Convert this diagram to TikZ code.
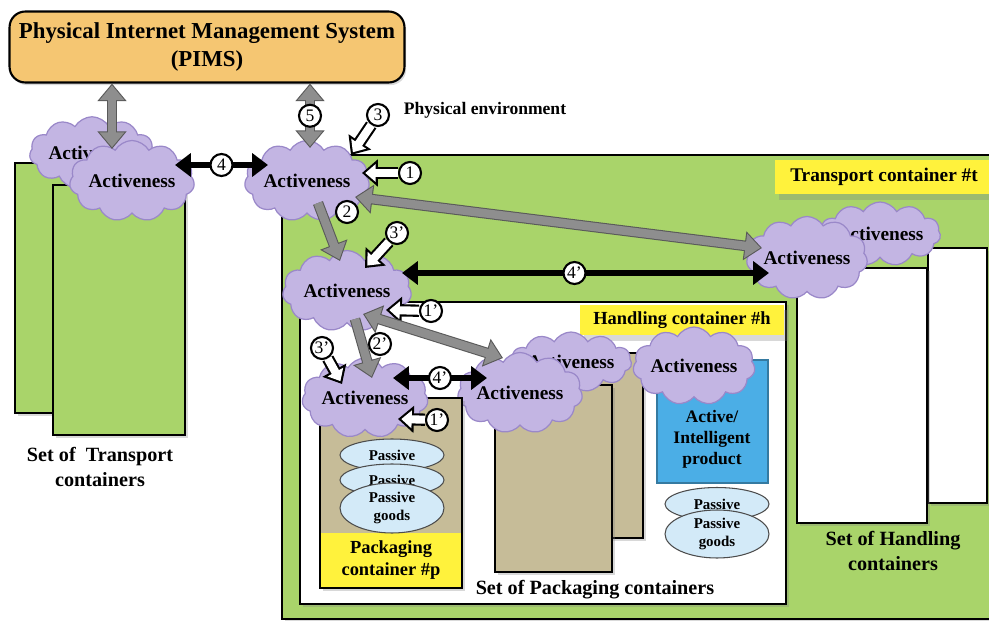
\documentclass[tikz,border=0pt]{standalone}
\usepackage{fontspec}
\setmainfont{Liberation Serif}
\usetikzlibrary{shapes.symbols,shapes.geometric,arrows.meta,calc,shadows}

\definecolor{pimsorange}{HTML}{F5C672}
\definecolor{tgreen}{HTML}{A9D46A}
\definecolor{cloudfill}{HTML}{C3B5E3}
\definecolor{cloudedge}{HTML}{9A88C9}
\definecolor{packtan}{HTML}{C6BC98}
\definecolor{tagyellow}{HTML}{FFF23C}
\definecolor{prodblue}{HTML}{4BAEE6}
\definecolor{goodsblue}{HTML}{D3EAF8}
\definecolor{arrowgray}{HTML}{8E8E8E}

\tikzset{
  pimsbox/.style={draw, line width=1.2pt, rounded corners=9pt, fill=pimsorange,
    minimum width=7.9cm, minimum height=1.42cm, align=center,
    font=\bfseries\fontsize{13}{15.5}\selectfont,
    drop shadow={opacity=0.3, shadow xshift=1pt, shadow yshift=-1.5pt}},
  box/.style={draw, line width=1.6pt,
    drop shadow={opacity=0.3, shadow xshift=1.5pt, shadow yshift=-1.5pt}},
  tag/.style={fill=tagyellow, inner sep=0pt, align=center,
    font=\bfseries\fontsize{11}{13}\selectfont},
  lbl/.style={align=center, inner sep=0pt, font=\bfseries\fontsize{11.5}{14}\selectfont},
  cloudy/.style={cloud, cloud puffs=11, cloud puff arc=120, cloud ignores aspect,
    draw=cloudedge, fill=cloudfill, line width=0.7pt, inner sep=0pt,
    minimum width=2.5cm, minimum height=1.62cm,
    font=\bfseries\fontsize{11}{13}\selectfont},
  goods/.style={ellipse, draw=black!70, fill=goodsblue, line width=0.6pt,
    inner sep=0pt, minimum width=2.08cm, align=center,
    font=\bfseries\fontsize{8.5}{10}\selectfont},
  num/.style={circle, draw=black, fill=white, text=black, line width=1.2pt,
    minimum size=0.44cm, inner sep=0pt, font=\fontsize{10}{10}\selectfont},
  blacklink/.style={line width=3pt,
    {Triangle[length=9pt,width=13pt]}-{Triangle[length=9pt,width=13pt]}},
  grayone/.style={draw=black!65, line width=6pt, -{Triangle[length=10pt,width=16pt]},
    postaction={draw=arrowgray, line width=4.8pt, shorten >=0.96pt,
      -{Triangle[length=8.44pt,width=13.5pt]}}},
  graylink/.style={draw=black!65, line width=6pt,
    {Triangle[length=10pt,width=16pt]}-{Triangle[length=10pt,width=16pt]},
    postaction={draw=arrowgray, line width=4.8pt, shorten >=0.96pt, shorten <=0.96pt,
      {Triangle[length=8.44pt,width=13.5pt]}-{Triangle[length=8.44pt,width=13.5pt]}}},
  hollow/.style={draw=black, line width=7pt, -{Triangle[length=9pt,width=15pt]},
    postaction={draw=white, line width=4.6pt, shorten >=1.87pt,
      -{Triangle[length=5.9pt,width=9.8pt]}}}
}

\begin{document}
\begin{tikzpicture}[x=0.02cm, y=-0.02cm]
\useasboundingbox (0,0) rectangle (989,621);

% management system
\node[pimsbox] (pims) at (207,47) {Physical Internet Management System\\(PIMS)};

% set of transport containers
\draw[box, fill=tgreen] (15,163) rectangle (147,413);
\draw[box, fill=tgreen] (53,185) rectangle (185,435);
\node[lbl] (tset) at (100,467) {Set of~ Transport\\containers};
\node[cloudy, minimum height=1.45cm] (lback) at (92,153) {Activeness};
\node[cloudy] (lfront) at (132,181) {Activeness};

% transport container #t
\draw[box, line width=1.3pt, fill=tgreen] (282,155) rectangle (1000,619);
\node[tag, minimum width=4.36cm, minimum height=0.7cm, drop shadow={opacity=0.3, shadow yshift=-3pt}] (ttag) at (884,177) {Transport container \#t};

% set of handling containers
\draw[box, fill=white] (928,248) rectangle (987,503);
\draw[box, fill=white] (797,268) rectangle (927,523);
\node[lbl] (hset) at (893,551) {Set of Handling\\containers};
\node[cloudy, minimum width=2.4cm, minimum height=1.28cm] (rback) at (880,234) {Activeness};
\node[cloudy, minimum width=2.42cm, minimum height=1.66cm] (rfront) at (807,258) {Activeness};

% handling container #h
\draw[box, fill=white] (300,302) rectangle (786,604);
\node[tag, minimum width=4.08cm, minimum height=0.62cm, font=\bfseries\fontsize{10.5}{12}\selectfont,
  drop shadow={opacity=0.3, shadow yshift=-3pt}] (htag) at (682,320) {Handling container \#h};

% set of packaging containers
\draw[box, fill=packtan] (526,353) rectangle (643,538);
\draw[box, fill=packtan] (495,385) rectangle (612,572);
\node[lbl] (pset) at (595,590) {Set of Packaging containers};
\node[cloudy, minimum width=2.36cm, minimum height=1.2cm] (pback) at (571,362) {Activeness};
\node[cloudy] (pfront) at (520,393) {Activeness};

% intelligent product and passive goods
\draw[draw=prodblue!70!black, line width=0.6pt, fill=prodblue] (657,360) rectangle (768,483);
\node[lbl, font=\bfseries\fontsize{10}{12}\selectfont] (prod) at (712,439) {Active/\\Intelligent\\product};
\node[cloudy, minimum width=2.44cm, minimum height=1.56cm] (icloud) at (694,366) {Activeness};
\node[goods, minimum height=0.66cm] (g4) at (717,504) {Passive};
\node[goods, minimum height=0.96cm] (g5) at (717,534) {Passive\\goods};

% packaging container #p
\draw[box, fill=packtan] (320,398) rectangle (462,588);
\fill[tagyellow] (321.4,533) rectangle (460.6,586.6);
\node[lbl, font=\bfseries\fontsize{10.5}{13}\selectfont] (ptag) at (391,560) {Packaging\\container \#p};
\node[goods, minimum height=0.64cm] (g1) at (392,455) {Passive};
\node[goods, minimum height=0.64cm] (g2) at (392,480) {Passive};
\node[goods, minimum height=1.0cm] (g3) at (392,508) {Passive\\goods};
\node[cloudy, minimum width=2.52cm, minimum height=1.6cm] (pcloud) at (365,398) {Activeness};

% upper activeness
\node[cloudy] (mcloud) at (307,181) {Activeness};
\node[cloudy, minimum width=2.58cm] (scloud) at (347,291) {Activeness};
\node[lbl, font=\bfseries\fontsize{10}{11}\selectfont] (env) at (485,110) {Physical environment};

% links to PIMS
\coordinate (pl) at ($(lfront.center)+(-20,-32)$);
\coordinate (p5) at ($(mcloud.center)+(3,-33)$);
\draw[graylink] (pl) -- (pl |- pims.south);
\draw[graylink] (p5) -- (p5 |- pims.south) node[num, midway] (n5) {5};

% transport level
\draw[blacklink] ($(lfront.center)+(43,-16)$) -- ($(mcloud.center)+(-39,-16)$) node[num, midway] (n4) {4};
\node[num] (n3) at (378,115) {3};
\draw[hollow] (n3) -- ($(mcloud.center)+(44,-26)$);
\node[num] (n1) at (410,173) {1};
\draw[hollow] (n1) -- ($(mcloud.center)+(55,-8)$);
\draw[grayone] ($(mcloud.center)+(11,22)$) -- ($(scloud.center)+(-7,-30)$);
\node[num] (n2) at (347,212) {2};
\draw[graylink] ($(mcloud.center)+(48,16)$) -- ($(rfront.center)+(-45,-10)$);

% handling level
\node[num] (n3a) at (397,233) {3'};
\draw[hollow] (n3a) -- ($(scloud.center)+(18,-23)$);
\draw[blacklink] ($(scloud.center)+(55,-18)$) -- ($(rfront.center)+(-38,15)$) node[num, pos=0.47] (n4a) {4'};
\node[num] (n1a) at (431,311) {1'};
\draw[hollow] (n1a) -- ($(scloud.center)+(39,19)$);
\draw[grayone] ($(scloud.center)+(8,28)$) -- ($(pcloud.center)+(7,-20)$);
\node[num] (n2a) at (380,344) {2'};
\draw[graylink] ($(scloud.center)+(16,23)$) -- ($(pfront.center)+(-17,-35)$);

% packaging level
\node[num] (n3b) at (322,348) {3'};
\draw[hollow] (n3b) -- ($(pcloud.center)+(-23,-14)$);
\draw[blacklink] ($(pcloud.center)+(28,-20)$) -- ($(pfront.center)+(-33,-15)$) node[num, midway] (n4b) {4'};
\node[num] (n1b) at (437,420) {1'};
\draw[hollow] (n1b) -- ($(pcloud.center)+(33,21)$);
\end{tikzpicture}
\end{document}
